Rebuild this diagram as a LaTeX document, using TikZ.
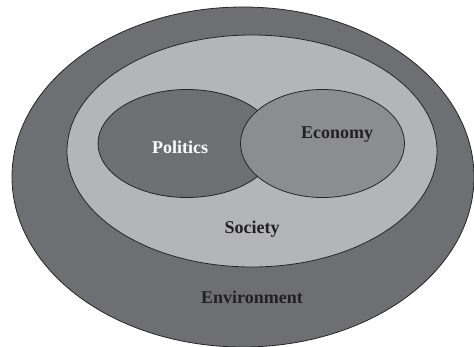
\documentclass[tikz,border=0pt]{standalone}
\usepackage{fontspec}
\setmainfont{Liberation Serif}
\usetikzlibrary{shapes.geometric}
\definecolor{darkg}{RGB}{110,111,115}
\definecolor{lightg}{RGB}{180,181,185}
\definecolor{midg}{RGB}{140,141,145}
\definecolor{txt}{RGB}{35,32,33}
\tikzset{
  region/.style={ellipse, draw=black!85, line width=0.8pt, inner sep=0pt},
  lbl/.style={font=\bfseries\fontsize{18}{20}\selectfont, text=txt, inner sep=0pt},
}
\begin{document}
\begin{tikzpicture}[x=1pt,y=-1pt]
\useasboundingbox (0,0) rectangle (474,347);
\node[region, fill=darkg, minimum width=462pt, minimum height=340pt] (env) at (243,177) {};
\node[region, fill=lightg, minimum width=370pt, minimum height=232pt] (soc) at (252,151) {};
\node[region, fill=darkg, minimum width=178pt, minimum height=108pt] (pol) at (187,143.5) {};
\node[region, fill=midg, minimum width=164pt, minimum height=108pt] (eco) at (322.5,143.5) {};
\node[lbl, text=white] (tpol) at (180,147) {Politics};
\node[lbl] (teco) at (337,135) {Economy};
\node[lbl] (tsoc) at (252,229) {Society};
\node[lbl] (tenv) at (252,297) {Environment};
\end{tikzpicture}
\end{document}
